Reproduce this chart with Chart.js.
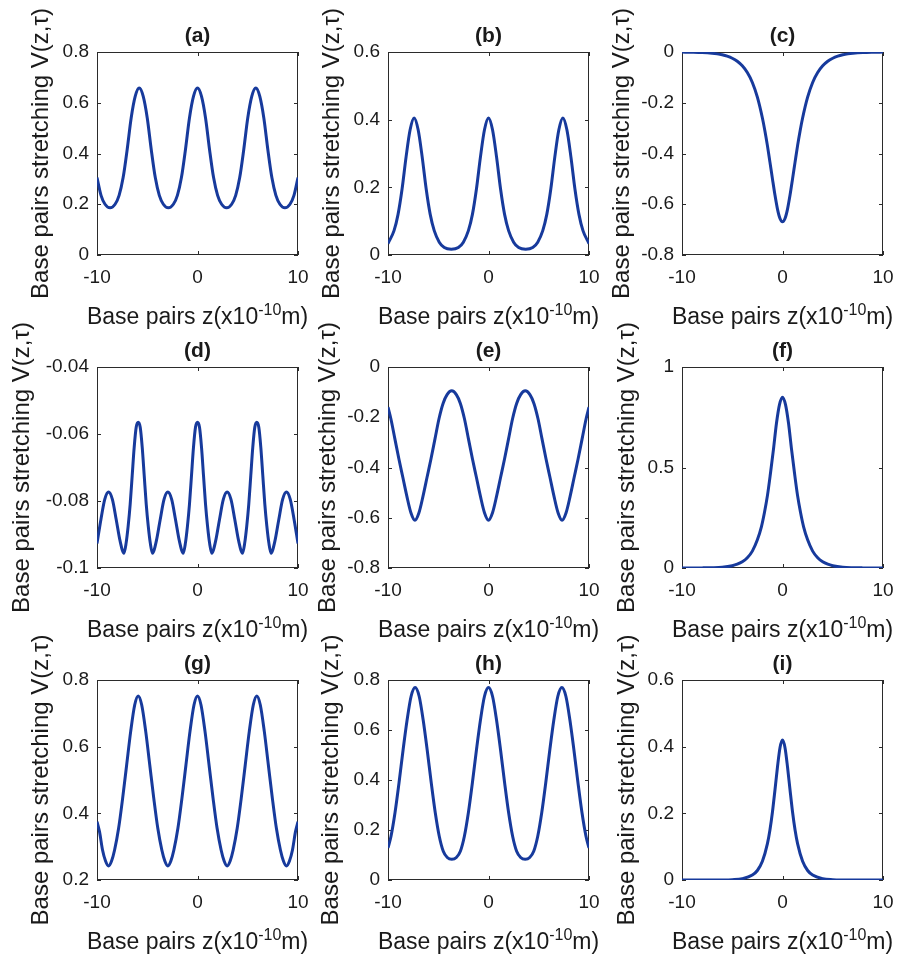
<!DOCTYPE html>
<html>
<head>
<meta charset="utf-8">
<script src="https://cdn.jsdelivr.net/npm/chart.js@4.4.1/dist/chart.umd.min.js"></script>
<style>
  body { margin: 0; background: #fff; width: 906px; height: 956px; position: relative; overflow: hidden; }
  canvas { position: absolute; }
</style>
</head>
<body>
<canvas id="c-a"></canvas><canvas id="c-b"></canvas><canvas id="c-c"></canvas>
<canvas id="c-d"></canvas><canvas id="c-e"></canvas><canvas id="c-f"></canvas>
<canvas id="c-g"></canvas><canvas id="c-h"></canvas><canvas id="c-i"></canvas>
<script>
// values, z in units of 1e-10 m
const xTicks = [-10, 0, 10];

const zA = [-10, -9.6, -9.2, -8.7, -8.2, -7.8, -7.4, -7.0, -6.6, -6.2, -5.8, -5.4, -5.0, -4.6, -4.2, -3.8, -3.4, -2.9, -2.4, -2.0, -1.6, -1.2, -0.8, -0.4, 0, 0.4, 0.8, 1.2, 1.6, 2.0, 2.4, 2.9, 3.4, 3.8, 4.2, 4.6, 5.0, 5.4, 5.8, 6.2, 6.6, 7.0, 7.4, 7.8, 8.2, 8.7, 9.2, 9.6, 10];
const vA = [0.305, 0.235, 0.2, 0.186, 0.2, 0.235, 0.305, 0.415, 0.54, 0.625, 0.658, 0.625, 0.54, 0.415, 0.305, 0.235, 0.2, 0.186, 0.2, 0.235, 0.305, 0.415, 0.54, 0.625, 0.658, 0.625, 0.54, 0.415, 0.305, 0.235, 0.2, 0.186, 0.2, 0.235, 0.305, 0.415, 0.54, 0.625, 0.658, 0.625, 0.54, 0.415, 0.305, 0.235, 0.2, 0.186, 0.2, 0.235, 0.305];
const ticksA = [0, 0.2, 0.4, 0.6, 0.8];

const zB = [-10, -9.4, -9.0, -8.6, -8.2, -7.8, -7.4, -7.0, -6.6, -6.2, -5.8, -5.4, -4.9, -4.4, -3.7, -3.0, -2.5, -2.0, -1.6, -1.2, -0.8, -0.4, 0, 0.4, 0.8, 1.2, 1.6, 2.0, 2.5, 3.0, 3.7, 4.4, 4.9, 5.4, 5.8, 6.2, 6.6, 7.0, 7.4, 7.8, 8.2, 8.6, 9.0, 9.4, 10];
const vB = [0.034, 0.072, 0.12, 0.195, 0.29, 0.37, 0.405, 0.37, 0.29, 0.195, 0.12, 0.072, 0.038, 0.022, 0.017, 0.022, 0.038, 0.072, 0.12, 0.195, 0.29, 0.37, 0.405, 0.37, 0.29, 0.195, 0.12, 0.072, 0.038, 0.022, 0.017, 0.022, 0.038, 0.072, 0.12, 0.195, 0.29, 0.37, 0.405, 0.37, 0.29, 0.195, 0.12, 0.072, 0.034];
const ticksB = [0, 0.2, 0.4, 0.6];

const zC = [-10, -9, -8, -7, -6.5, -6, -5.5, -5, -4.5, -4, -3.5, -3, -2.5, -2, -1.75, -1.5, -1.25, -1, -0.75, -0.5, -0.25, 0, 0.25, 0.5, 0.75, 1, 1.25, 1.5, 1.75, 2, 2.5, 3, 3.5, 4, 4.5, 5, 5.5, 6, 6.5, 7, 8, 9, 10];
const vC = [-0.0004, -0.001, -0.0022, -0.005, -0.0074, -0.011, -0.0164, -0.0245, -0.0365, -0.0544, -0.081, -0.12, -0.178, -0.26, -0.311, -0.369, -0.434, -0.5, -0.564, -0.619, -0.656, -0.669, -0.656, -0.619, -0.564, -0.5, -0.434, -0.369, -0.311, -0.26, -0.178, -0.12, -0.081, -0.0544, -0.0365, -0.0245, -0.0164, -0.011, -0.0074, -0.005, -0.0022, -0.001, -0.0004];
const ticksC = [-0.8, -0.6, -0.4, -0.2, 0];

const zD = [-10, -9.61, -9.23, -8.85, -8.47, -8.09, -7.70, -7.32, -7.10, -6.90, -6.70, -6.50, -6.30, -6.10, -5.90, -5.70, -5.50, -5.30, -5.10, -4.90, -4.70, -4.48, -4.10, -3.71, -3.33, -2.95, -2.57, -2.19, -1.80, -1.42, -1.20, -1.00, -0.80, -0.60, -0.40, -0.20, 0,
            0.20, 0.40, 0.60, 0.80, 1.00, 1.20, 1.42, 1.80, 2.19, 2.57, 2.95, 3.33, 3.71, 4.10, 4.48, 4.70, 4.90, 5.10, 5.30, 5.50, 5.70, 5.90, 6.10, 6.30, 6.50, 6.70, 6.90, 7.10, 7.32, 7.70, 8.09, 8.47, 8.85, 9.23, 9.61, 10];
const vD = [-0.0927, -0.0855, -0.0795, -0.0773, -0.0795, -0.0855, -0.092, -0.0956, -0.0925, -0.0875, -0.081, -0.0725, -0.064, -0.058, -0.0565, -0.058, -0.064, -0.0725, -0.081, -0.0875, -0.0925, -0.0956, -0.092, -0.0855, -0.0795, -0.0773, -0.0795, -0.0855, -0.092, -0.0956, -0.0925, -0.0875, -0.081, -0.0725, -0.064, -0.058, -0.0565,
            -0.058, -0.064, -0.0725, -0.081, -0.0875, -0.0925, -0.0956, -0.092, -0.0855, -0.0795, -0.0773, -0.0795, -0.0855, -0.092, -0.0956, -0.0925, -0.0875, -0.081, -0.0725, -0.064, -0.058, -0.0565, -0.058, -0.064, -0.0725, -0.081, -0.0875, -0.0925, -0.0956, -0.092, -0.0855, -0.0795, -0.0773, -0.0795, -0.0855, -0.0927];
const ticksD = [-0.1, -0.08, -0.06, -0.04];

const zE = [-10, -9.72, -9.32, -8.92, -8.52, -8.12, -7.72, -7.32, -6.92, -6.52, -6.12, -5.72, -5.32, -4.92, -4.52, -4.12, -3.66, -3.2, -2.8, -2.4, -2.0, -1.6, -1.2, -0.8, -0.4, 0, 0.4, 0.8, 1.2, 1.6, 2.0, 2.4, 2.8, 3.2, 3.66, 4.12, 4.52, 4.92, 5.32, 5.72, 6.12, 6.52, 6.92, 7.32, 7.72, 8.12, 8.52, 8.92, 9.32, 9.72, 10];
const vE = [-0.16, -0.205, -0.285, -0.365, -0.44, -0.515, -0.58, -0.61, -0.58, -0.515, -0.44, -0.365, -0.285, -0.205, -0.145, -0.11, -0.095, -0.11, -0.145, -0.205, -0.285, -0.365, -0.44, -0.515, -0.58, -0.61, -0.58, -0.515, -0.44, -0.365, -0.285, -0.205, -0.145, -0.11, -0.095, -0.11, -0.145, -0.205, -0.285, -0.365, -0.44, -0.515, -0.58, -0.61, -0.58, -0.515, -0.44, -0.365, -0.285, -0.205, -0.16];
const ticksE = [-0.8, -0.6, -0.4, -0.2, 0];

const zF = [-10, -8, -7, -6, -5, -4.5, -4, -3.5, -3, -2.5, -2.1, -1.8, -1.5, -1.2, -0.9, -0.6, -0.3, 0, 0.3, 0.6, 0.9, 1.2, 1.5, 1.8, 2.1, 2.5, 3, 3.5, 4, 4.5, 5, 6, 7, 8, 10];
const vF = [0.0001, 0.0006, 0.0015, 0.004, 0.0115, 0.019, 0.031, 0.051, 0.084, 0.14, 0.205, 0.275, 0.36, 0.47, 0.59, 0.72, 0.813, 0.85, 0.813, 0.72, 0.59, 0.47, 0.36, 0.275, 0.205, 0.14, 0.084, 0.051, 0.031, 0.019, 0.0115, 0.004, 0.0015, 0.0006, 0.0001];
const ticksF = [0, 0.5, 1];

const zG = [-10, -9.75, -9.45, -9.15, -8.85, -8.55, -8.25, -7.85, -7.45, -7.05, -6.65, -6.25, -5.9, -5.55, -5.15, -4.75, -4.35, -3.95, -3.55, -3.25, -2.95, -2.65, -2.35, -1.95, -1.55, -1.15, -0.75, -0.35, 0,
            0.35, 0.75, 1.15, 1.55, 1.95, 2.35, 2.65, 2.95, 3.25, 3.55, 3.95, 4.35, 4.75, 5.15, 5.55, 5.9, 6.25, 6.65, 7.05, 7.45, 7.85, 8.25, 8.55, 8.85, 9.15, 9.45, 9.75, 10];
const vG = [0.375, 0.345, 0.29, 0.257, 0.242, 0.257, 0.29, 0.355, 0.445, 0.545, 0.645, 0.725, 0.752, 0.725, 0.645, 0.545, 0.445, 0.355, 0.29, 0.257, 0.242, 0.257, 0.29, 0.355, 0.445, 0.545, 0.645, 0.725, 0.752,
            0.725, 0.645, 0.545, 0.445, 0.355, 0.29, 0.257, 0.242, 0.257, 0.29, 0.355, 0.445, 0.545, 0.645, 0.725, 0.752, 0.725, 0.645, 0.545, 0.445, 0.355, 0.29, 0.257, 0.242, 0.257, 0.29, 0.345, 0.375];
const ticksG = [0.2, 0.4, 0.6, 0.8];

const zH = [-10, -9.7, -9.3, -8.9, -8.5, -8.1, -7.7, -7.3, -6.9, -6.5, -6.1, -5.7, -5.3, -4.9, -4.5, -4.1, -3.65, -3.2, -2.8, -2.4, -2.0, -1.6, -1.2, -0.8, -0.4, 0, 0.4, 0.8, 1.2, 1.6, 2.0, 2.4, 2.8, 3.2, 3.65, 4.1, 4.5, 4.9, 5.3, 5.7, 6.1, 6.5, 6.9, 7.3, 7.7, 8.1, 8.5, 8.9, 9.3, 9.7, 10];
const vH = [0.128, 0.175, 0.27, 0.39, 0.52, 0.64, 0.735, 0.77, 0.735, 0.64, 0.52, 0.39, 0.27, 0.175, 0.115, 0.09, 0.083, 0.09, 0.115, 0.175, 0.27, 0.39, 0.52, 0.64, 0.735, 0.77, 0.735, 0.64, 0.52, 0.39, 0.27, 0.175, 0.115, 0.09, 0.083, 0.09, 0.115, 0.175, 0.27, 0.39, 0.52, 0.64, 0.735, 0.77, 0.735, 0.64, 0.52, 0.39, 0.27, 0.175, 0.128];
const ticksH = [0, 0.2, 0.4, 0.6, 0.8];

const zI = [-10, -8, -6, -5, -4, -3, -2.5, -2, -1.5, -1.25, -1, -0.75, -0.5, -0.25, 0, 0.25, 0.5, 0.75, 1, 1.25, 1.5, 2, 2.5, 3, 4, 5, 6, 8, 10];
const vI = [0, 0.0001, 0.0003, 0.001, 0.0038, 0.0147, 0.0285, 0.056, 0.109, 0.15, 0.204, 0.27, 0.339, 0.397, 0.42, 0.397, 0.339, 0.27, 0.204, 0.15, 0.109, 0.056, 0.0285, 0.0147, 0.0038, 0.001, 0.0003, 0.0001, 0];
const ticksI = [0, 0.2, 0.4, 0.6];

const panels = [
  { id: 'a', z: zA, v: vA, yTicks: ticksA, col: 0, row: 0 },
  { id: 'b', z: zB, v: vB, yTicks: ticksB, col: 1, row: 0 },
  { id: 'c', z: zC, v: vC, yTicks: ticksC, col: 2, row: 0 },
  { id: 'd', z: zD, v: vD, yTicks: ticksD, col: 0, row: 1 },
  { id: 'e', z: zE, v: vE, yTicks: ticksE, col: 1, row: 1 },
  { id: 'f', z: zF, v: vF, yTicks: ticksF, col: 2, row: 1 },
  { id: 'g', z: zG, v: vG, yTicks: ticksG, col: 0, row: 2 },
  { id: 'h', z: zH, v: vH, yTicks: ticksH, col: 1, row: 2 },
  { id: 'i', z: zI, v: vI, yTicks: ticksI, col: 2, row: 2 }
];

// page geometry of the plot boxes
const boxLeft = [97, 388, 682];
const boxRight = [298, 589, 883];
const boxTop = [52, 367, 680];
const boxBottom = [255, 568, 880];
// x centre of each rotated y label (MATLAB pushes it out past wide tick labels)
const labelX = { a: 41, b: 332, c: 622, d: 22, e: 328, f: 627, g: 41, h: 331, i: 627 };

const FONT = '"Liberation Sans", Arial, Helvetica, sans-serif';
const TEXT = '#1a1a1a';
const AXIS = '#2b2b2b';
const LINE = '#173a9c';
const YLABEL_SIZE = 24;

const frame = {
  id: 'panelFrame',
  beforeDatasetsDraw(chart) {
    const { ctx, chartArea: a, scales: { x, y } } = chart;
    ctx.save();
    ctx.strokeStyle = AXIS;
    ctx.lineWidth = 1;
    ctx.beginPath();
    x.ticks.forEach(t => {
      const px = Math.round(x.getPixelForValue(t.value)) + 0.5;
      ctx.moveTo(px, a.bottom); ctx.lineTo(px, a.bottom - 4);
      ctx.moveTo(px, a.top); ctx.lineTo(px, a.top + 4);
    });
    y.ticks.forEach(t => {
      const py = Math.round(y.getPixelForValue(t.value)) + 0.5;
      ctx.moveTo(a.left, py); ctx.lineTo(a.left + 4, py);
      ctx.moveTo(a.right, py); ctx.lineTo(a.right - 4, py);
    });
    ctx.stroke();
    ctx.strokeRect(Math.round(a.left) + 0.5, Math.round(a.top) + 0.5, Math.round(a.width) - 1, Math.round(a.height) - 1);
    ctx.restore();
  },
  afterDraw(chart, args, opts) {
    const { ctx, chartArea: a } = chart;
    const cx = (a.left + a.right) / 2;
    ctx.save();
    ctx.fillStyle = TEXT;
    // panel letter
    ctx.font = 'bold 21px ' + FONT;
    ctx.textAlign = 'center';
    ctx.textBaseline = 'alphabetic';
    ctx.fillText(opts.title, cx, a.top - 10);
    // x label with superscript exponent
    const base = 'Base pairs z(x10', sup = '-10', tail = 'm)';
    ctx.font = '23px ' + FONT;
    const w1 = ctx.measureText(base).width, w3 = ctx.measureText(tail).width;
    ctx.font = '16px ' + FONT;
    const w2 = ctx.measureText(sup).width;
    const x0 = cx - (w1 + w2 + w3) / 2;
    const yb = a.bottom + 69;
    ctx.textAlign = 'left';
    ctx.font = '23px ' + FONT;
    ctx.fillText(base, x0, yb);
    ctx.fillText(tail, x0 + w1 + w2, yb);
    ctx.font = '16px ' + FONT;
    ctx.fillText(sup, x0 + w1, yb - 9);
    ctx.restore();
  }
};

panels.forEach(p => {
  const canvas = document.getElementById('c-' + p.id);
  const cx = boxLeft[p.col] - 97;
  const cy = boxTop[p.row] - 52;
  const W = boxRight[p.col] + 23 - cx;
  const H = boxBottom[p.row] + 80 - cy;
  canvas.width = W; canvas.height = H;
  canvas.style.left = cx + 'px'; canvas.style.top = cy + 'px';
  canvas.style.width = W + 'px'; canvas.style.height = H + 'px';

  const padL = Math.max(0, Math.round(labelX[p.id] - cx - YLABEL_SIZE * 1.2 / 2));
  const yWidth = boxLeft[p.col] - cx - padL;
  const xHeight = H - (boxBottom[p.row] - cy);

  new Chart(canvas, {
    type: 'line',
    data: {
      datasets: [{
        data: p.z.map((z, i) => ({ x: z, y: p.v[i] })),
        borderColor: LINE,
        borderWidth: 3,
        pointRadius: 0,
        fill: false,
        cubicInterpolationMode: 'monotone'
      }]
    },
    options: {
      responsive: false,
      animation: false,
      events: [],
      layout: { padding: { left: padL, top: boxTop[p.row] - cy, right: 23, bottom: 0 } },
      plugins: {
        legend: { display: false },
        tooltip: { enabled: false },
        panelFrame: { title: '(' + p.id + ')' }
      },
      scales: {
        x: {
          type: 'linear',
          min: -10, max: 10,
          afterBuildTicks: s => { s.ticks = xTicks.map(v => ({ value: v })); },
          afterFit: s => { s.height = xHeight; },
          grid: { display: false, drawTicks: false },
          border: { display: false },
          ticks: { font: { family: FONT, size: 19 }, color: TEXT, padding: 11, maxRotation: 0, autoSkip: false, callback: v => String(v) }
        },
        y: {
          type: 'linear',
          min: p.yTicks[0], max: p.yTicks[p.yTicks.length - 1],
          afterBuildTicks: s => { s.ticks = p.yTicks.map(v => ({ value: v })); },
          afterFit: s => { s.width = yWidth; },
          grid: { display: false, drawTicks: false },
          border: { display: false },
          ticks: { font: { family: FONT, size: 19 }, color: TEXT, padding: 8, autoSkip: false, callback: v => String(v) },
          title: {
            display: true,
            text: 'Base pairs stretching V(z,τ)',
            font: { family: FONT, size: YLABEL_SIZE },
            color: TEXT,
            padding: { top: 0, bottom: 0 }
          }
        }
      }
    },
    plugins: [frame]
  });
});
</script>
</body>
</html>
